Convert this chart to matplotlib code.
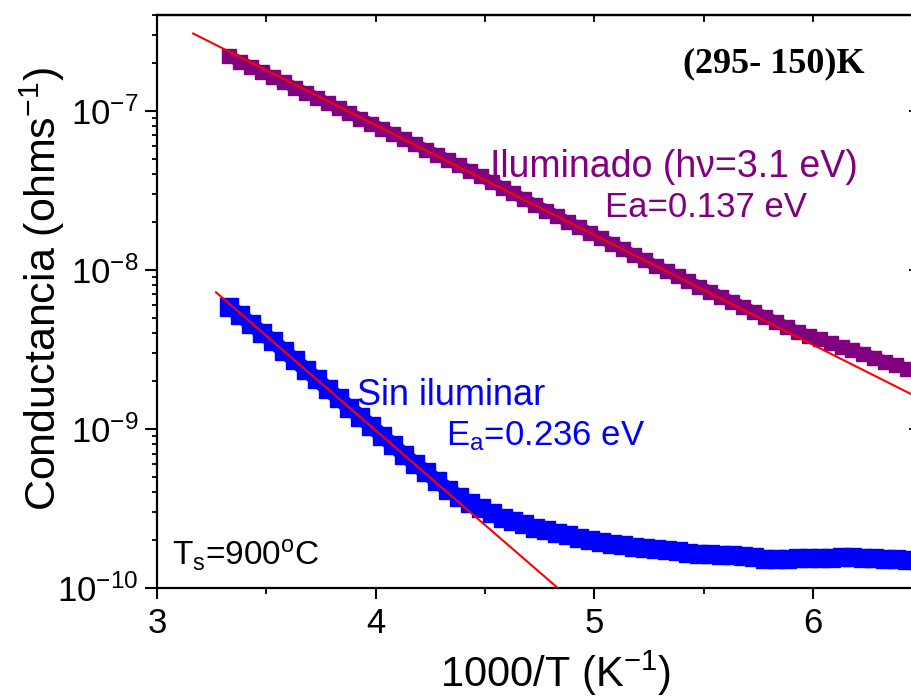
import numpy as np
import matplotlib
matplotlib.use("Agg")
import matplotlib.pyplot as plt
from matplotlib.ticker import FixedLocator, MultipleLocator, FuncFormatter, NullFormatter, LogLocator

plt.rcParams['font.family'] = ['Liberation Sans', 'DejaVu Sans']
plt.rcParams['mathtext.fontset'] = 'custom'
plt.rcParams['mathtext.rm'] = 'Liberation Sans'
plt.rcParams['mathtext.it'] = 'Liberation Sans:italic'
plt.rcParams['mathtext.bf'] = 'Liberation Sans:bold'

# 1000/T (K^-1) sampling of both measurements
inv_T = [3.33, 3.38, 3.43, 3.48, 3.53, 3.58, 3.63, 3.68, 3.73, 3.78,
         3.83, 3.88, 3.93, 3.98, 4.03, 4.08, 4.13, 4.18, 4.23, 4.28,
         4.33, 4.38, 4.43, 4.48, 4.53, 4.58, 4.63, 4.68, 4.73, 4.78,
         4.83, 4.88, 4.93, 4.98, 5.03, 5.08, 5.13, 5.18, 5.23, 5.28,
         5.33, 5.38, 5.43, 5.48, 5.53, 5.58, 5.63, 5.68, 5.73, 5.78,
         5.83, 5.88, 5.93, 5.98, 6.03, 6.08, 6.13, 6.18, 6.23, 6.28,
         6.33, 6.38, 6.43, 6.48]

# Conductance under illumination (hv = 3.1 eV), ohms^-1
sigma_ilum = [2.20e-7, 2.04e-7, 1.89e-7, 1.75e-7, 1.63e-7, 1.51e-7, 1.40e-7, 1.30e-7, 1.21e-7, 1.12e-7,
              1.04e-7, 9.64e-8, 8.93e-8, 8.30e-8, 7.69e-8, 7.14e-8, 6.62e-8, 6.15e-8, 5.70e-8, 5.30e-8,
              4.91e-8, 4.54e-8, 4.19e-8, 3.87e-8, 3.57e-8, 3.29e-8, 3.02e-8, 2.78e-8, 2.56e-8, 2.36e-8,
              2.18e-8, 2.00e-8, 1.85e-8, 1.71e-8, 1.58e-8, 1.46e-8, 1.35e-8, 1.24e-8, 1.15e-8, 1.06e-8,
              9.84e-9, 9.10e-9, 8.45e-9, 7.83e-9, 7.29e-9, 6.78e-9, 6.31e-9, 5.86e-9, 5.45e-9, 5.07e-9,
              4.71e-9, 4.38e-9, 4.08e-9, 3.86e-9, 3.65e-9, 3.45e-9, 3.28e-9, 3.13e-9, 2.96e-9, 2.81e-9,
              2.65e-9, 2.52e-9, 2.39e-9, 2.26e-9]

# Conductance in the dark, ohms^-1
sigma_dark = [5.87e-9, 5.18e-9, 4.57e-9, 4.03e-9, 3.56e-9, 3.10e-9, 2.70e-9, 2.36e-9, 2.06e-9, 1.79e-9,
              1.56e-9, 1.36e-9, 1.19e-9, 1.04e-9, 9.04e-10, 7.88e-10, 6.87e-10, 6.04e-10, 5.33e-10, 4.72e-10,
              4.16e-10, 3.75e-10, 3.41e-10, 3.18e-10, 2.96e-10, 2.77e-10, 2.64e-10, 2.51e-10, 2.40e-10, 2.31e-10,
              2.22e-10, 2.14e-10, 2.07e-10, 2.00e-10, 1.94e-10, 1.89e-10, 1.85e-10, 1.81e-10, 1.78e-10, 1.76e-10,
              1.73e-10, 1.70e-10, 1.66e-10, 1.64e-10, 1.63e-10, 1.62e-10, 1.61e-10, 1.59e-10, 1.56e-10, 1.53e-10,
              1.52e-10, 1.53e-10, 1.54e-10, 1.55e-10, 1.55e-10, 1.55e-10, 1.56e-10, 1.56e-10, 1.55e-10, 1.54e-10,
              1.53e-10, 1.52e-10, 1.51e-10, 1.50e-10]

# Arrhenius fits: sigma = sigma0 * exp(-Ea / (k T))
k_B = 8.617e-5          # eV/K
Ea_ilum = 0.137         # eV
Ea_dark = 0.236         # eV
sigma0_ilum = 4.69e-5
sigma0_dark = 5.60e-5
fit_range_ilum = (3.165, 6.6)
fit_range_dark = (3.27, 4.9)

PURPLE = '#800080'
BLUE = '#0000FF'
RED = '#FF0000'

fig = plt.figure(figsize=(9.12, 6.99), dpi=100)
ax = fig.add_axes([157 / 912, 111 / 699, 758 / 912, 573 / 699])

# dense square symbols drawn as a continuous band
ax.plot(inv_T, sigma_ilum, ls='-', lw=8.5, marker='s', ms=10.5, color=PURPLE, mec=PURPLE,
        solid_capstyle='butt', zorder=2)
ax.plot(inv_T, sigma_dark, ls='-', lw=11, marker='s', ms=12.5, color=BLUE, mec=BLUE,
        solid_capstyle='butt', zorder=2)


def arrhenius(x, s0, Ea):
    x = np.asarray(x)
    return s0 * np.exp(-Ea * x / (1000.0 * k_B))


xf = np.linspace(*fit_range_ilum, 200)
ax.plot(xf, arrhenius(xf, sigma0_ilum, Ea_ilum), color=RED, lw=1.5, zorder=3)
xf = np.linspace(*fit_range_dark, 200)
ax.plot(xf, arrhenius(xf, sigma0_dark, Ea_dark), color=RED, lw=1.5, zorder=3)

ax.set_yscale('log')
ax.set_xlim(3, 3 + 758 / 218.7)
ax.set_ylim(1e-10, 4.0e-7)

ax.xaxis.set_major_locator(MultipleLocator(1))
ax.xaxis.set_minor_locator(MultipleLocator(0.5))
ax.yaxis.set_major_locator(FixedLocator([1e-10, 1e-9, 1e-8, 1e-7]))
ax.yaxis.set_minor_locator(LogLocator(base=10, subs=np.arange(2, 10)))
ax.yaxis.set_minor_formatter(NullFormatter())
ax.yaxis.set_major_formatter(FuncFormatter(
    lambda v, p: r'$\mathregular{10^{%d}}$' % int(round(np.log10(v)))))
ax.xaxis.set_major_formatter(FuncFormatter(lambda v, p: '%d' % round(v)))

for s in ax.spines.values():
    s.set_linewidth(1.6)

ax.tick_params(axis='y', which='major', direction='out', length=8.5, width=1.5,
               labelsize=25, pad=5, right=False)
ax.tick_params(axis='y', which='minor', direction='out', length=3.8, width=1.3, right=False)
ax.tick_params(axis='x', which='major', direction='out', length=8, width=1.5,
               labelsize=25, pad=6, top=False)
ax.tick_params(axis='x', which='minor', direction='out', length=4, width=1.3, top=False)

# inward ticks on the top and right frame
top = ax.secondary_xaxis('top')
top.xaxis.set_major_locator(MultipleLocator(1))
top.xaxis.set_minor_locator(MultipleLocator(0.5))
top.tick_params(which='both', direction='in', length=5, width=1.3, labeltop=False)
top.spines['top'].set_linewidth(1.6)

right = ax.secondary_yaxis('right')
right.yaxis.set_major_locator(FixedLocator([1e-10, 1e-9, 1e-8, 1e-7]))
right.yaxis.set_minor_locator(FixedLocator([]))
right.tick_params(which='both', direction='in', length=4, width=1.3, labelright=False)

ax.set_xlabel(r'1000/T (K$^{\mathregular{-1}}$)', fontsize=30, va='top')
ax.xaxis.set_label_coords((555 - 157) / 758, (588 - 649) / 573)
ax.set_ylabel(r'Conductancia (ohms$^{\mathregular{-1}}$)', fontsize=31, va='center')
ax.yaxis.set_label_coords((42 - 157) / 758, (588 - 289) / 573)


def px(xp, yp):
    """pixel position inside the figure -> axes fraction"""
    return ((xp - 157) / 758, (588 - yp) / 573)


ax.text(*px(490, 177), 'Iluminado (hν=3.1 eV)', transform=ax.transAxes,
        color=PURPLE, fontsize=27, ha='left', va='baseline')
ax.text(*px(605, 217), 'Ea=0.137 eV', transform=ax.transAxes,
        color=PURPLE, fontsize=25, ha='left', va='baseline')
ax.text(*px(357, 405), 'Sin iluminar', transform=ax.transAxes,
        color=BLUE, fontsize=26, ha='left', va='baseline')
ax.text(*px(446, 445), r'E$_{\mathregular{a}}$=0.236 eV', transform=ax.transAxes,
        color=BLUE, fontsize=25, ha='left', va='baseline')
ax.text(*px(172, 565), r'T$_{\mathregular{s}}$=900$^{\mathregular{o}}$C', transform=ax.transAxes,
        color='black', fontsize=24, ha='left', va='baseline')
ax.text(*px(683, 72), '(295- 150)K', transform=ax.transAxes,
        color='black', fontsize=26, ha='left', va='baseline',
        family=['Liberation Serif', 'DejaVu Serif'], fontweight='bold')

fig.savefig('out.png', dpi=100)
